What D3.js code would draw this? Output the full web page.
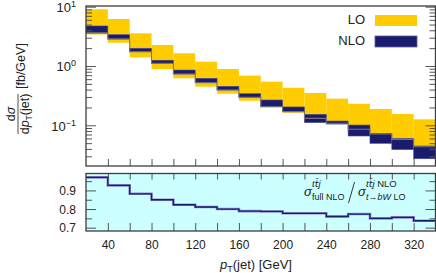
<!DOCTYPE html>
<html>
<head>
<meta charset="utf-8">
<script src="https://cdn.jsdelivr.net/npm/d3@7"></script>
<style>
body { margin: 0; background: #fff; }
svg { display: block; }
text { font-family: "Liberation Sans", Arial, sans-serif; fill: #222; }
</style>
</head>
<body>
<svg id="chart" width="436" height="273"></svg>
<script>
var binEdges = [20, 40, 60, 80, 100, 120, 140, 160, 180, 200, 220, 240, 260, 280, 300, 320, 340];

var loHigh = [9.04, 6.2, 3.56, 2.26, 1.64, 1.18, 0.89, 0.687, 0.544, 0.43, 0.35, 0.281, 0.231, 0.188, 0.155, 0.126],
    loLow = [3.40, 2.47, 1.40, 0.89, 0.62, 0.448, 0.341, 0.26, 0.201, 0.163, 0.131, 0.108, 0.086, 0.0713, 0.058, 0.0446];

var nloHigh = [4.73, 3.37, 1.99, 1.25, 0.855, 0.62, 0.454, 0.341, 0.267, 0.204, 0.153, 0.118, 0.101, 0.073, 0.060, 0.0448],
    nloLow = [3.67, 2.89, 1.74, 1.11, 0.733, 0.523, 0.394, 0.297, 0.206, 0.17, 0.111, 0.105, 0.066, 0.0497, 0.039, 0.0273];

var centralLine = [3.56, 2.82, 1.74, 1.11, 0.733, 0.523, 0.394, 0.297, 0.206, 0.170, 0.131, 0.108, 0.0857, 0.0713, 0.058, 0.0436];

var ratio = [0.970, 0.927, 0.882, 0.850, 0.823, 0.811, 0.800, 0.789, 0.787, 0.777, 0.777, 0.760, 0.773, 0.750, 0.755, 0.737];

var xTickLabels = [40, 80, 120, 160, 200, 240, 280, 320],
    xTicksAll = [40, 60, 80, 100, 120, 140, 160, 180, 200, 220, 240, 260, 280, 300, 320],
    yMajor = [0.1, 1, 10],
    yExp = ["\u22121", "0", "1"],
    ratioMajor = [0.7, 0.8, 0.9],
    ratioMinor = [0.75, 0.85, 0.95];

var YELLOW = "#ffcc00",
    NAVY = "#1b1b6e",
    FRAME = "#3c3c3c";

var X0 = 86, X1 = 435.5,
    MAIN_TOP = 6, MAIN_BOT = 166,
    RAT_TOP = 173.5, RAT_BOT = 231;

var svg = d3.select("#chart");

var x = d3.scaleLinear().domain([20, 340]).range([X0, X1]);
var y = d3.scaleLog().domain([0.0206, 10.27]).range([MAIN_BOT, MAIN_TOP]);
var yr = d3.scaleLinear().domain([0.682, 0.991]).range([RAT_BOT, RAT_TOP]);

var bins = loHigh.map(function (d, i) {
    return {
        x0: binEdges[i], x1: binEdges[i + 1],
        loHi: d, loLo: loLow[i],
        nloHi: nloHigh[i], nloLo: nloLow[i]
    };
});

// step helper: one point per bin start, plus the last edge
function stepPoints(vals) {
    var pts = vals.map(function (v, i) { return [binEdges[i], v]; });
    pts.push([binEdges[binEdges.length - 1], vals[vals.length - 1]]);
    return pts;
}

// ---- main panel
var main = svg.append("g");

main.selectAll("rect.lo").data(bins).enter().append("rect")
    .attr("class", "lo")
    .attr("x", function (d) { return x(d.x0); })
    .attr("width", function (d) { return x(d.x1) - x(d.x0); })
    .attr("y", function (d) { return y(d.loHi); })
    .attr("height", function (d) { return y(d.loLo) - y(d.loHi); })
    .attr("fill", YELLOW);

main.selectAll("rect.nlo").data(bins).enter().append("rect")
    .attr("class", "nlo")
    .attr("x", function (d) { return x(d.x0); })
    .attr("width", function (d) { return x(d.x1) - x(d.x0); })
    .attr("y", function (d) { return y(d.nloHi); })
    .attr("height", function (d) { return y(d.nloLo) - y(d.nloHi); })
    .attr("fill", NAVY)
    .attr("stroke", "#4d4d96")
    .attr("stroke-width", 0.6);

var mainLine = d3.line()
    .x(function (d) { return x(d[0]); })
    .y(function (d) { return y(d[1]); })
    .curve(d3.curveStepAfter);

main.append("path")
    .attr("d", mainLine(stepPoints(centralLine)))
    .attr("fill", "none")
    .attr("stroke", "#747474")
    .attr("stroke-width", 1.1);

// ticks
var minorY = [];
[0.01, 0.1, 1].forEach(function (dec) {
    for (var k = 2; k <= 9; k++) {
        var v = +(dec * k).toPrecision(3);
        if (v >= y.domain()[0] && v <= y.domain()[1]) minorY.push(v);
    }
});

function noLabels(ax) { return ax.tickFormat(""); }

function tickGroup(g) {
    g.select(".domain").remove();
    g.selectAll(".tick line").attr("stroke", "#555");
}

main.append("g").attr("transform", "translate(" + X0 + ",0)")
    .call(noLabels(d3.axisRight(y).tickValues(yMajor).tickSize(10))).call(tickGroup);
main.append("g").attr("transform", "translate(" + X0 + ",0)")
    .call(noLabels(d3.axisRight(y).tickValues(minorY).tickSize(6))).call(tickGroup);
main.append("g").attr("transform", "translate(" + X1 + ",0)")
    .call(noLabels(d3.axisLeft(y).tickValues(yMajor).tickSize(10))).call(tickGroup);
main.append("g").attr("transform", "translate(" + X1 + ",0)")
    .call(noLabels(d3.axisLeft(y).tickValues(minorY).tickSize(6))).call(tickGroup);
main.append("g").attr("transform", "translate(0," + MAIN_BOT + ")")
    .call(noLabels(d3.axisTop(x).tickValues(xTicksAll).tickSize(7))).call(tickGroup);

main.append("rect")
    .attr("x", X0).attr("y", MAIN_TOP)
    .attr("width", X1 - X0).attr("height", MAIN_BOT - MAIN_TOP)
    .attr("fill", "none").attr("stroke", FRAME).attr("stroke-width", 1.3);

// y labels 10^n
var yLab = main.selectAll("text.ylab").data(yMajor).enter().append("text")
    .attr("class", "ylab")
    .attr("x", 76)
    .attr("y", function (d, i) { return Math.max(y(d) + 5.5, 10); })
    .attr("text-anchor", "end")
    .style("font-size", "13px");
yLab.append("tspan").text("10");
yLab.append("tspan").attr("dy", -5).style("font-size", "9px")
    .text(function (d, i) { return yExp[i]; });

// legend
var legend = main.append("g").attr("transform", "translate(365,0)");
[["LO", YELLOW, 15], ["NLO", NAVY, 36]].forEach(function (e) {
    legend.append("text").attr("x", 0).attr("y", e[2] + 9)
        .attr("text-anchor", "end").style("font-size", "13px").text(e[0]);
    legend.append("rect").attr("x", 10).attr("y", e[2])
        .attr("width", 42).attr("height", 11)
        .attr("fill", e[1])
        .attr("stroke", e[0] == "NLO" ? "#5a5aa0" : "none").attr("stroke-width", 0.8);
});

// y title
var yt = svg.append("g").attr("transform", "translate(18,114) rotate(-90)");
yt.append("line").attr("x1", -20).attr("x2", 20).attr("y1", 0).attr("y2", 0)
    .attr("stroke", "#222").attr("stroke-width", 0.8);
var num = yt.append("text").attr("x", 0).attr("y", -3).attr("text-anchor", "middle").style("font-size", "12.5px");
num.append("tspan").text("d");
num.append("tspan").style("font-style", "italic").text("\u03c3");
var den = yt.append("text").attr("x", 0).attr("y", 11).attr("text-anchor", "middle").style("font-size", "12.5px");
den.append("tspan").text("d");
den.append("tspan").style("font-style", "italic").text("p");
den.append("tspan").attr("dy", 2.5).style("font-size", "8.5px").text("T");
den.append("tspan").attr("dy", -2.5).text("(jet)");
yt.append("text").attr("x", 25).attr("y", 7).style("font-size", "12.5px").text("[fb/GeV]");

// ---- ratio panel
var rat = svg.append("g");

rat.append("rect")
    .attr("x", X0).attr("y", RAT_TOP)
    .attr("width", X1 - X0).attr("height", RAT_BOT - RAT_TOP)
    .attr("fill", "#ccffff");

var ratLine = d3.line()
    .x(function (d) { return x(d[0]); })
    .y(function (d) { return yr(d[1]); })
    .curve(d3.curveStepAfter);

rat.append("path").attr("d", ratLine(stepPoints(ratio)))
    .attr("fill", "none").attr("stroke", "#8a8ad0").attr("stroke-width", 2.6);
rat.append("path").attr("d", ratLine(stepPoints(ratio)))
    .attr("fill", "none").attr("stroke", NAVY).attr("stroke-width", 1.3);

rat.append("g").attr("transform", "translate(" + X0 + ",0)")
    .call(noLabels(d3.axisRight(yr).tickValues(ratioMajor).tickSize(10))).call(tickGroup);
rat.append("g").attr("transform", "translate(" + X0 + ",0)")
    .call(noLabels(d3.axisRight(yr).tickValues(ratioMinor).tickSize(6))).call(tickGroup);
rat.append("g").attr("transform", "translate(" + X1 + ",0)")
    .call(noLabels(d3.axisLeft(yr).tickValues(ratioMajor).tickSize(10))).call(tickGroup);
rat.append("g").attr("transform", "translate(" + X1 + ",0)")
    .call(noLabels(d3.axisLeft(yr).tickValues(ratioMinor).tickSize(6))).call(tickGroup);
rat.append("g").attr("transform", "translate(0," + RAT_TOP + ")")
    .call(noLabels(d3.axisBottom(x).tickValues(xTicksAll).tickSize(6))).call(tickGroup);

var xAxis = rat.append("g").attr("transform", "translate(0," + RAT_BOT + ")")
    .call(d3.axisBottom(x).tickValues(xTicksAll).tickSize(-8).tickPadding(9)
        .tickFormat(function (d) { return xTickLabels.indexOf(d) >= 0 ? d : ""; }));
xAxis.call(tickGroup);
xAxis.selectAll("text").style("font-size", "12px").style("font-family", null).attr("fill", "#222");

rat.append("rect")
    .attr("x", X0).attr("y", RAT_TOP)
    .attr("width", X1 - X0).attr("height", RAT_BOT - RAT_TOP)
    .attr("fill", "none").attr("stroke", FRAME).attr("stroke-width", 1.3);

rat.selectAll("text.rlab").data(ratioMajor).enter().append("text")
    .attr("class", "rlab")
    .attr("x", 76).attr("y", function (d) { return yr(d) + 4.5; })
    .attr("text-anchor", "end").style("font-size", "12px")
    .text(function (d) { return d.toFixed(1); });

// ratio annotation: sigma with superscript / subscript
function sigma(xp, sup, sub) {
    rat.append("text").attr("x", xp).attr("y", 196).style("font-size", "13px")
        .style("font-style", "italic").text("\u03c3");
    var s = rat.append("text").attr("x", xp + 8).attr("y", 186.5).style("font-size", "9.5px");
    sup.forEach(function (p) {
        s.append("tspan").style("font-style", p[1] ? "italic" : null)
            .style("font-family", p[2] ? "DejaVu Sans" : null).text(p[0]);
    });
    var b = rat.append("text").attr("x", xp + 8).attr("y", 199.5).style("font-size", "9px");
    sub.forEach(function (p) { b.append("tspan").style("font-style", p[1] ? "italic" : null).text(p[0]); });
}
var tbar = [["t", 1], ["t\u0304", 1, 1], ["j", 1]];
sigma(304, tbar, [["full NLO", 0]]);
rat.append("line").attr("x1", 354.5).attr("y1", 182).attr("x2", 348.5).attr("y2", 203)
    .attr("stroke", "#222").attr("stroke-width", 0.9);
sigma(358, tbar.concat([[" NLO", 0]]), [["t", 1], ["\u2192", 0], ["bW", 1], [" LO", 0]]);

// x title
var xt = svg.append("text").attr("x", 256).attr("y", 269).attr("text-anchor", "middle").style("font-size", "13px");
xt.append("tspan").style("font-style", "italic").text("p");
xt.append("tspan").attr("dy", 2.5).style("font-size", "9px").text("T");
xt.append("tspan").attr("dy", -2.5).text("(jet) [GeV]");
</script>
</body>
</html>
